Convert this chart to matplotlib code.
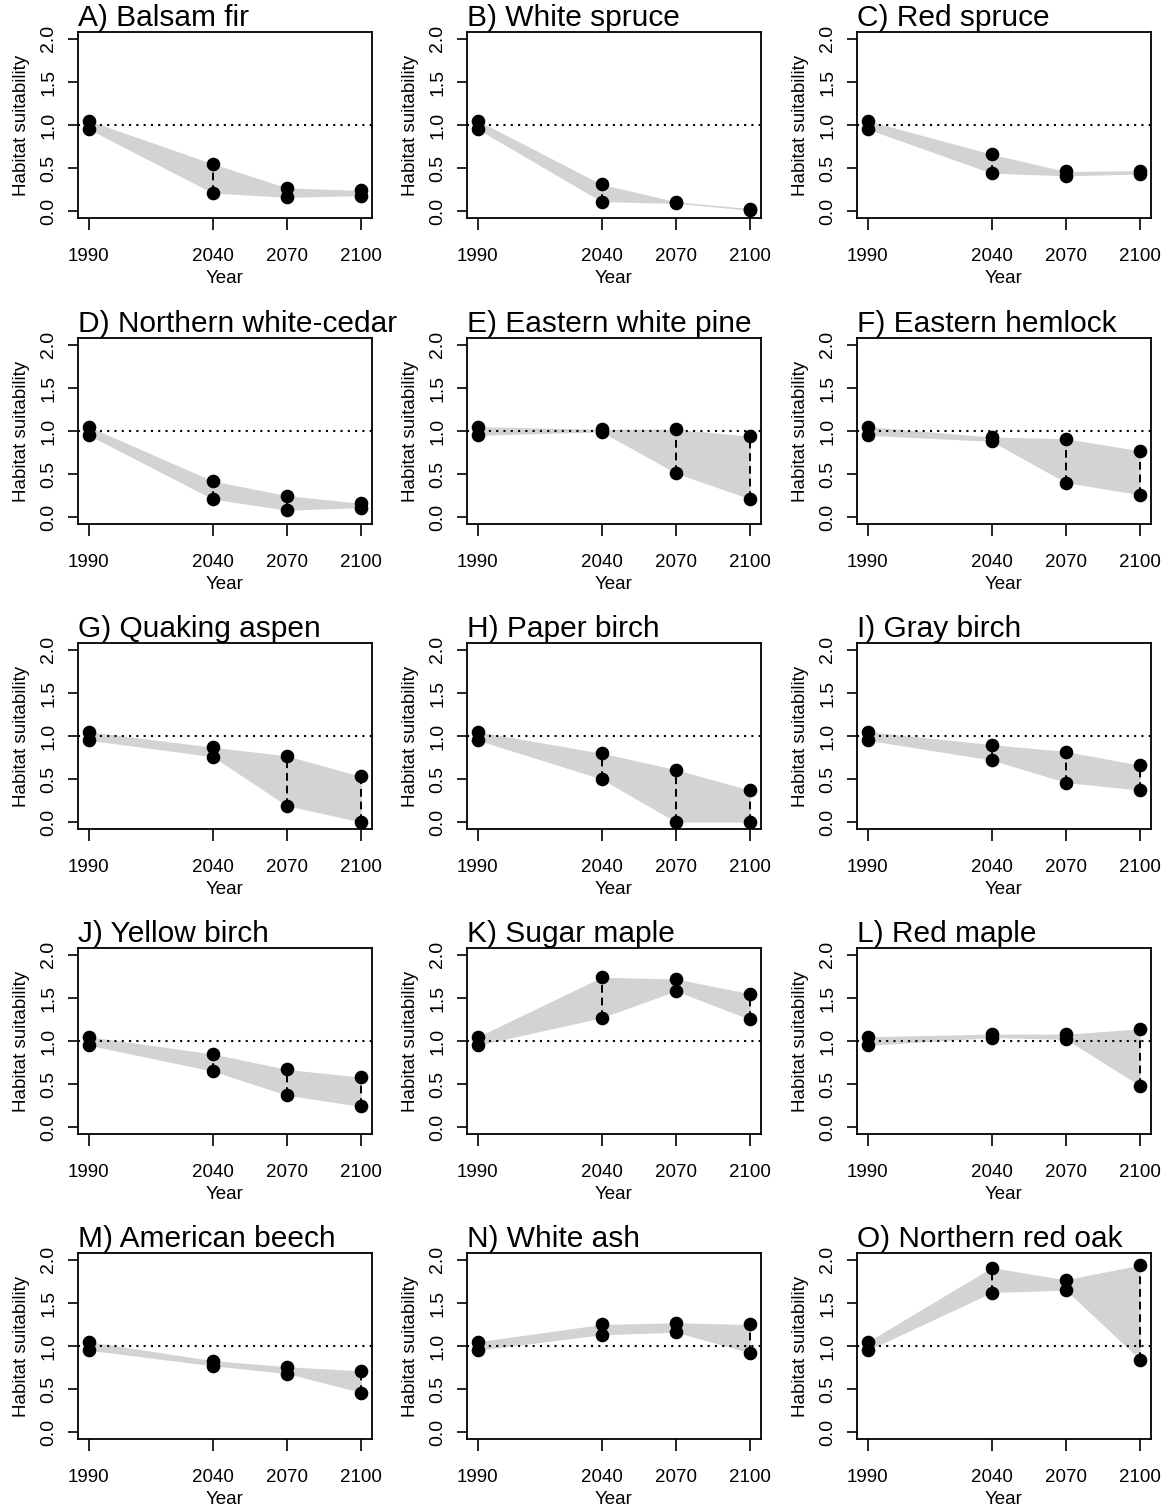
import matplotlib
matplotlib.use('Agg')
import matplotlib.pyplot as plt

plt.rcParams['font.family'] = ['Liberation Sans', 'DejaVu Sans']

years = [1990, 2040, 2070, 2100]
year_labels = ['1990', '2040', '2070', '2100']
yticks = [0.0, 0.5, 1.0, 1.5, 2.0]
ytick_labels = ['0.0', '0.5', '1.0', '1.5', '2.0']

titles = [
    'A) Balsam fir', 'B) White spruce', 'C) Red spruce',
    'D) Northern white-cedar', 'E) Eastern white pine', 'F) Eastern hemlock',
    'G) Quaking aspen', 'H) Paper birch', 'I) Gray birch',
    'J) Yellow birch', 'K) Sugar maple', 'L) Red maple',
    'M) American beech', 'N) White ash', 'O) Northern red oak',
]

# lower / upper habitat suitability at 1990, 2040, 2070, 2100
lower = [
    [0.95, 0.21, 0.16, 0.18],
    [0.95, 0.11, 0.09, 0.01],
    [0.95, 0.44, 0.41, 0.43],
    [0.95, 0.21, 0.08, 0.11],
    [0.95, 0.99, 0.51, 0.21],
    [0.95, 0.88, 0.40, 0.26],
    [0.95, 0.76, 0.19, 0.00],
    [0.95, 0.50, 0.00, 0.00],
    [0.95, 0.72, 0.46, 0.37],
    [0.95, 0.65, 0.37, 0.24],
    [0.95, 1.27, 1.58, 1.25],
    [0.95, 1.04, 1.02, 0.48],
    [0.95, 0.77, 0.68, 0.46],
    [0.95, 1.13, 1.16, 0.92],
    [0.95, 1.62, 1.65, 0.84],
]
upper = [
    [1.05, 0.55, 0.27, 0.24],
    [1.05, 0.31, 0.11, 0.03],
    [1.05, 0.66, 0.46, 0.47],
    [1.05, 0.42, 0.25, 0.16],
    [1.05, 1.02, 1.02, 0.94],
    [1.05, 0.93, 0.91, 0.77],
    [1.05, 0.87, 0.77, 0.53],
    [1.05, 0.80, 0.61, 0.37],
    [1.05, 0.90, 0.82, 0.66],
    [1.05, 0.85, 0.67, 0.58],
    [1.05, 1.74, 1.72, 1.55],
    [1.05, 1.08, 1.08, 1.14],
    [1.05, 0.83, 0.76, 0.71],
    [1.05, 1.25, 1.27, 1.25],
    [1.05, 1.91, 1.77, 1.94],
]

W, H = 1167, 1510
fig = plt.figure(figsize=(W / 100, H / 100), dpi=100)
col_left = [78, 467, 857]
row_top = [32, 338, 643, 948, 1253]
aw, ah = 294, 186

for i in range(15):
    r, c = divmod(i, 3)
    ax = fig.add_axes([col_left[c] / W, (H - row_top[r] - ah) / H, aw / W, ah / H])
    ax.fill_between(years, lower[i], upper[i], color='#d3d3d3', lw=0, zorder=1)
    ax.axhline(1.0, color='black', ls=(0, (1, 2.5)), lw=1.5, zorder=2)
    ax.vlines(years, lower[i], upper[i], colors='black',
              linestyles=[(0, (4, 2.5))], lw=1.4, zorder=3)
    ax.plot(years, lower[i], 'o', color='black', ms=8.8, zorder=4)
    ax.plot(years, upper[i], 'o', color='black', ms=8.8, zorder=4)
    ax.set_xlim(1985.6, 2104.4)
    ax.set_ylim(-0.08, 2.08)
    ax.set_xticks(years)
    ax.set_xticklabels(year_labels)
    ax.set_yticks(yticks)
    ax.set_yticklabels(ytick_labels, rotation=90, va='center')
    ax.tick_params(axis='x', length=8.5, width=1.2, pad=13, labelsize=13.5)
    ax.tick_params(axis='y', length=7, width=1.2, pad=8, labelsize=14)
    for s in ax.spines.values():
        s.set_linewidth(1.3)
    ax.set_xlabel('Year', fontsize=13.5, labelpad=4)
    ax.set_ylabel('Habitat suitability', fontsize=13.5, labelpad=7)
    ax.set_title(titles[i], loc='left', fontsize=21.5, pad=2.5)

fig.savefig('out.png', dpi=100)
